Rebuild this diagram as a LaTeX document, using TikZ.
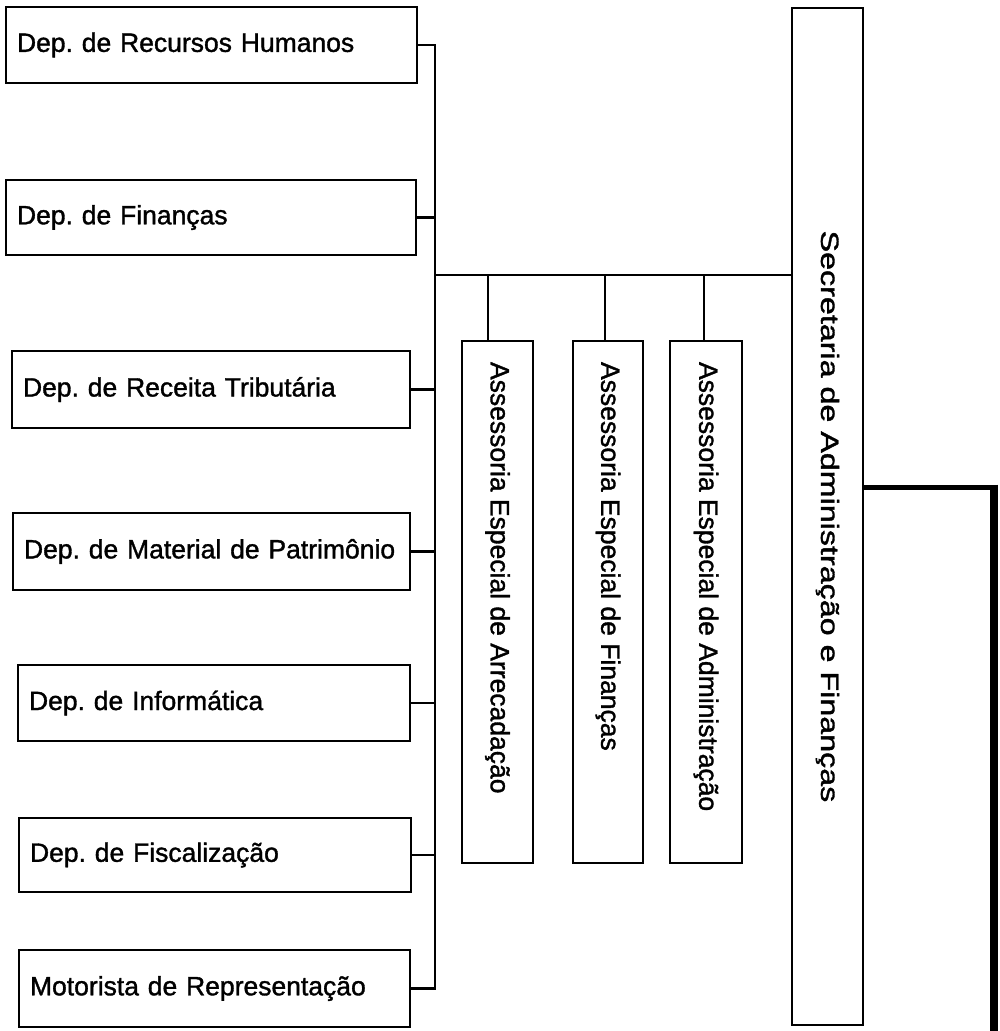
\documentclass[tikz,border=0pt]{standalone}
\usepackage{fontspec}
\setmainfont{Liberation Sans}[FakeBold=1.3,AutoFakeBold=1.3]
\usepackage{graphicx}
\frenchspacing

\tikzset{
  depbox/.style={draw, line width=2.4pt, inner xsep=11pt, align=left, font=\fontsize{26.5}{30}\selectfont\bfseries},
  asbox/.style={draw, line width=2.4pt, inner sep=0pt, font=\fontsize{26.5}{30}\selectfont\bfseries},
  wire/.style={line width=2.4pt},
  heavy/.style={line width=5pt}
}

\begin{document}
\begin{tikzpicture}[x=1pt,y=-1pt]
    \useasboundingbox (0,0) rectangle (1000,1031);
    % departamentos
    \node[depbox, text width=389pt, minimum height=76pt] (d1) at (211.5,45) {Dep. de Recursos Humanos};
    \node[depbox, text width=388pt, minimum height=75pt] (d2) at (211,217.5) {Dep. de Finanças};
    \node[depbox, text width=376pt, minimum height=77pt] (d3) at (211,389.5) {Dep. de Receita Tributária};
    \node[depbox, text width=375pt, minimum height=77pt] (d4) at (211.5,551.5) {Dep. de Material de Patrimônio};
    \node[depbox, text width=370pt, minimum height=76pt] (d5) at (214,703) {Dep. de Informática};
    \node[depbox, text width=370pt, minimum height=74pt] (d6) at (215,855) {Dep. de Fiscalização};
    \node[depbox, text width=369pt, minimum height=77pt] (d7) at (214.5,988.5) {Motorista de Representação};
    % assessorias
    \node[asbox, minimum width=71pt, minimum height=522pt] (a1) at (497.5,602)
        {\rotatebox{-90}{\makebox[480pt][l]{Assessoria Especial de Arrecadação}}};
    \node[asbox, minimum width=70pt, minimum height=522pt] (a2) at (608,602)
        {\rotatebox{-90}{\makebox[480pt][l]{Assessoria Especial de Finanças}}};
    \node[asbox, minimum width=72pt, minimum height=522pt] (a3) at (706,602)
        {\rotatebox{-90}{\makebox[480pt][l]{Assessoria Especial de Administração}}};
    % secretaria
    \node[asbox, minimum width=71pt, minimum height=1017pt] (sec) at (827.5,516.5)
        {\rotatebox{-90}{\scalebox{1.29}[1]{\fontsize{25}{30}\selectfont\mdseries Secretaria de Administração e Finanças}}};

    \coordinate (bt) at (435,45);
    \coordinate (hl) at (435,275);
    \coordinate (tk) at (994,487);
    \coordinate (tkend) at (994,1031);

    \draw[wire] (d1.east) -- (bt) |- (d7.east);
    \foreach \i in {2,...,6}
    {   \draw[wire] (d\i.east) -- (d\i.east -| bt);
    }
    \draw[wire] (hl) -- (hl -| sec.west);
    \draw[wire] ([xshift=-9.5pt]a1.north) -- ([xshift=-9.5pt]a1.north |- hl);
    \draw[wire] ([xshift=-3pt]a2.north) -- ([xshift=-3pt]a2.north |- hl);
    \draw[wire] ([xshift=-2pt]a3.north) -- ([xshift=-2pt]a3.north |- hl);
    \draw[heavy] (tk -| sec.east) -- (tk);
    \draw[line width=8pt] ([yshift=2.5pt]tk) -- (tkend);
\end{tikzpicture}
\end{document}
